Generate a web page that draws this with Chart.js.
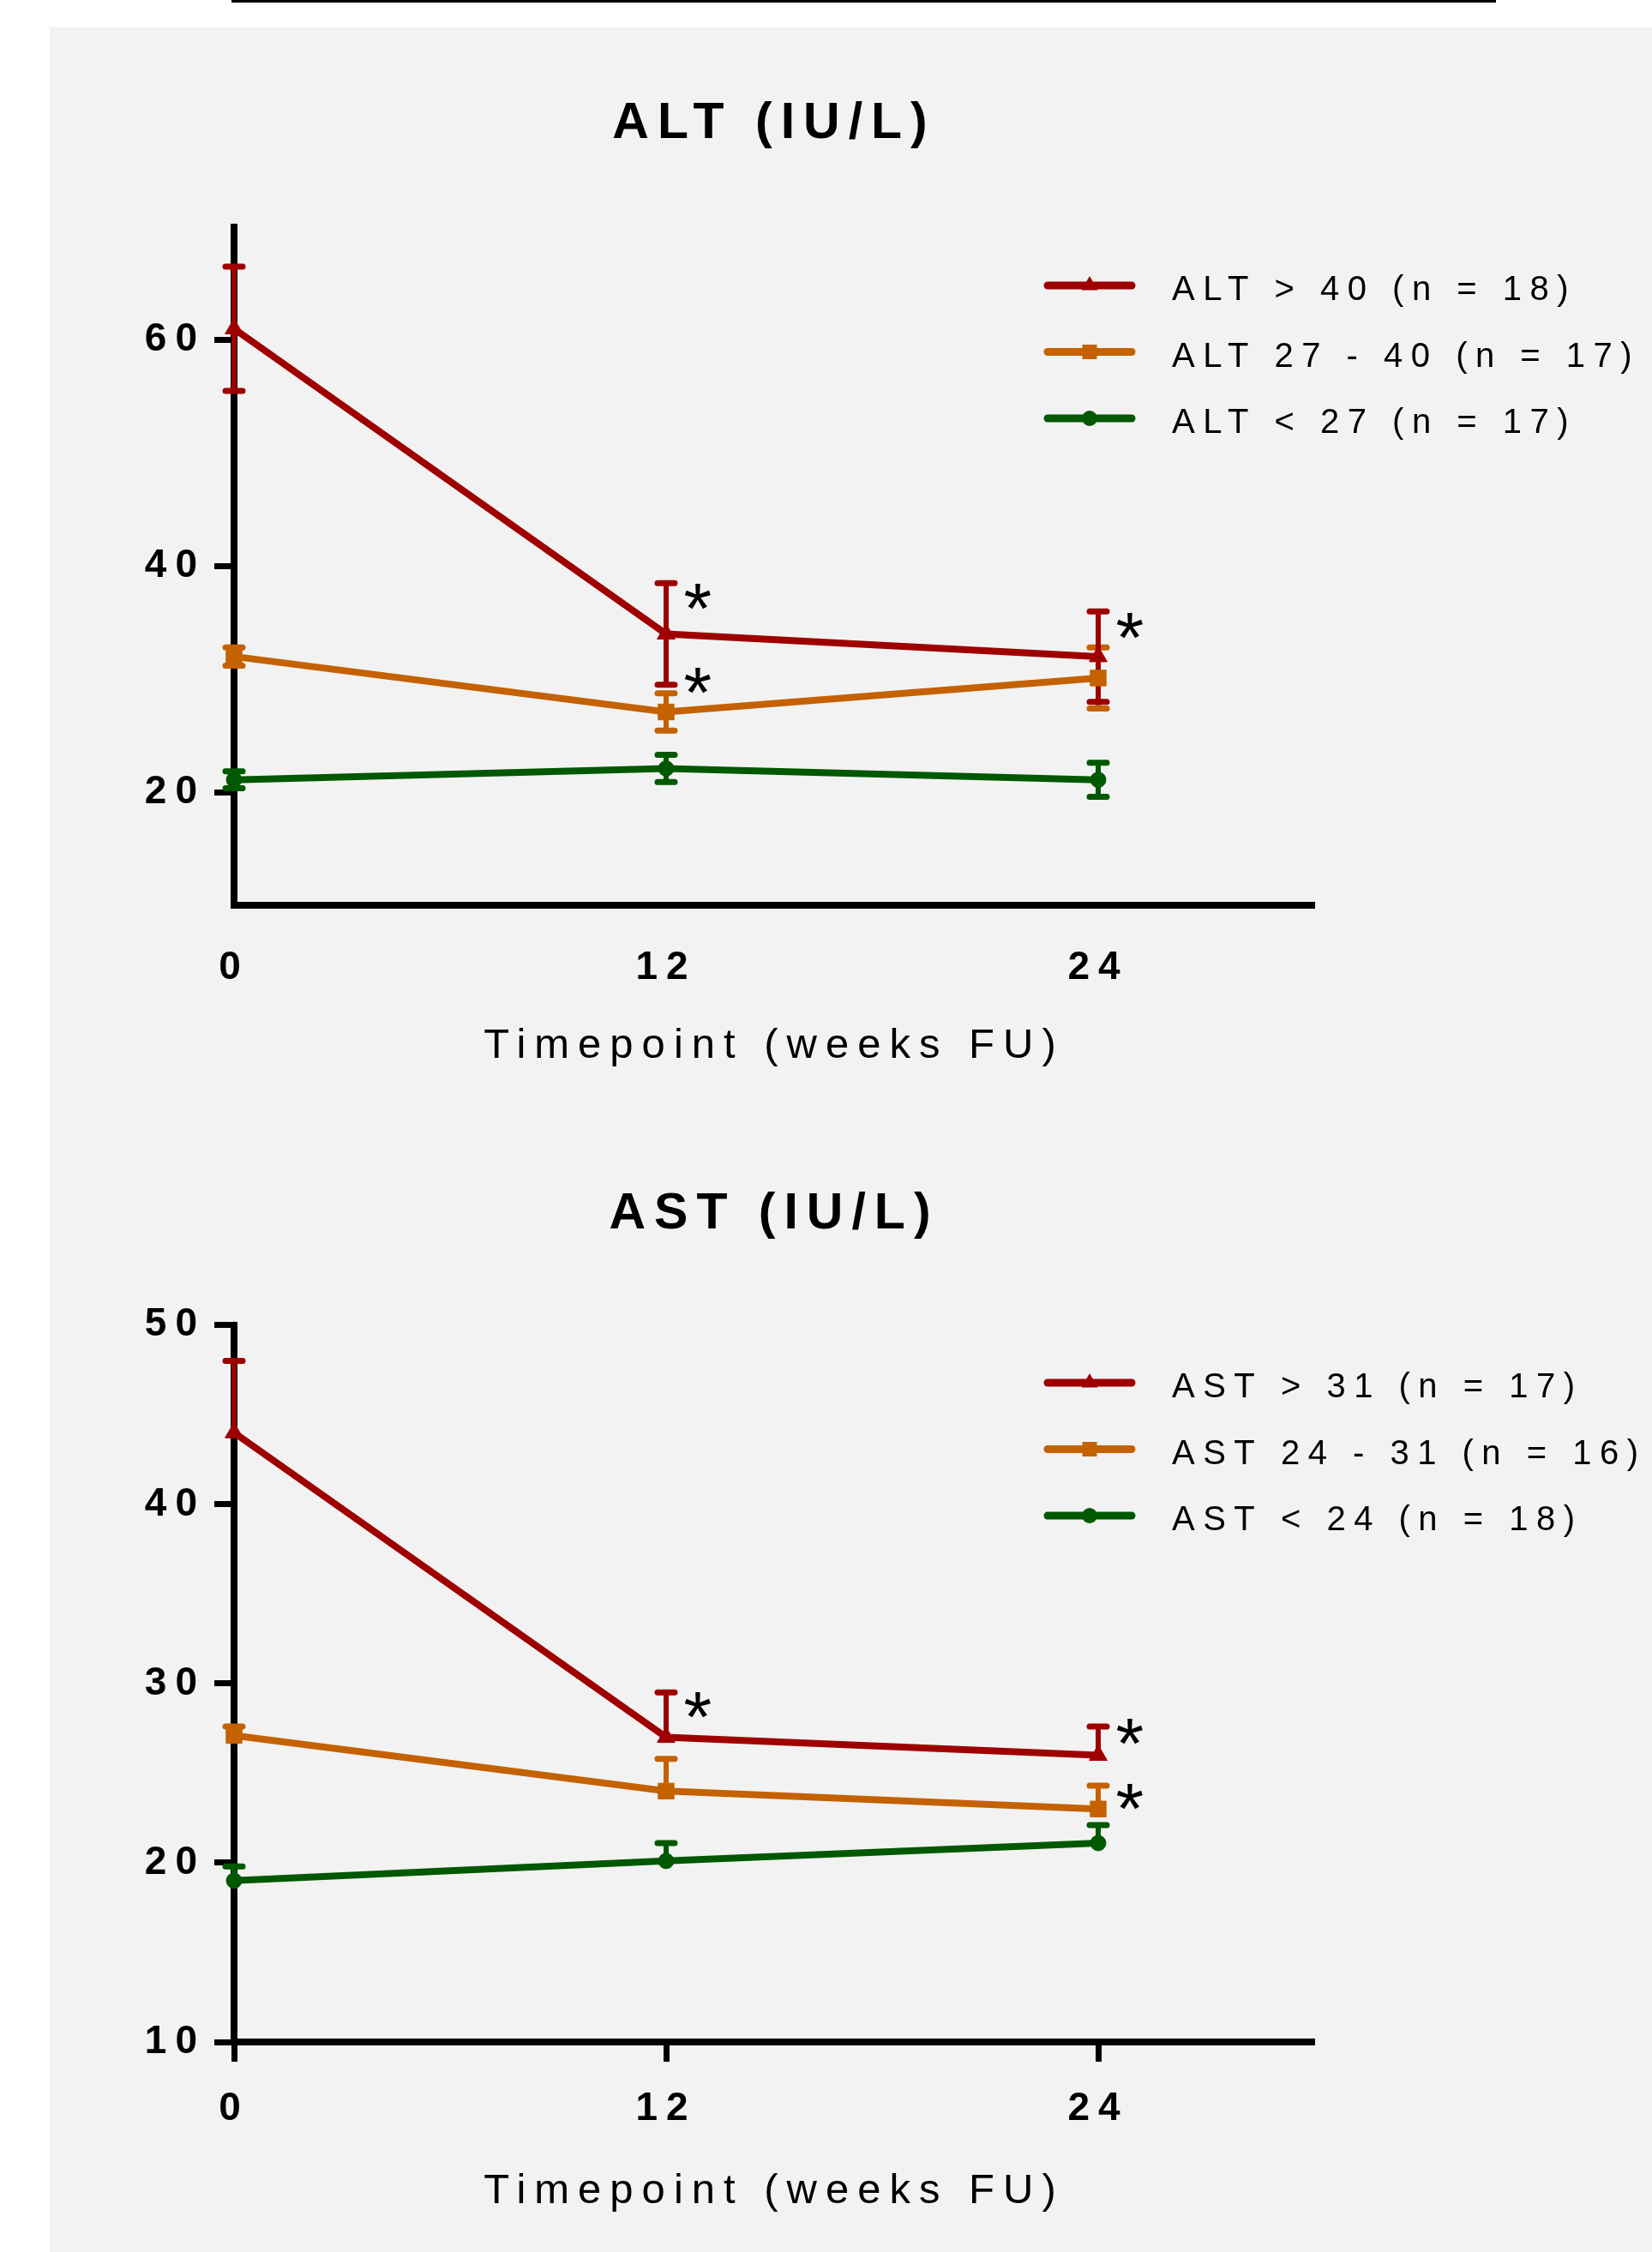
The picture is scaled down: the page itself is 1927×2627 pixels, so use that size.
<!DOCTYPE html>
<html>
<head>
<meta charset="utf-8">
<script src="https://cdn.jsdelivr.net/npm/chart.js@4.4.1/dist/chart.umd.min.js"></script>
<style>
  html, body { margin: 0; padding: 0; background: #fff; }
  body { width: 1927px; height: 2627px; position: relative; overflow: hidden; }
  #topRule { position: absolute; left: 270px; top: 0; width: 1475px; height: 3px; background: #000; }
  #panel { position: absolute; left: 58px; top: 32px; right: 0; bottom: 0; background: #f2f2f2; }
  .box { position: absolute; left: 0; width: 1927px; }
  #altBox { top: 0; height: 1290px; }
  #astBox { top: 1290px; height: 1337px; }
</style>
</head>
<body>
<div id="topRule"></div>
<div id="panel"></div>
<div class="box" id="altBox"><canvas id="altChart" width="1927" height="1290"></canvas></div>
<div class="box" id="astBox"><canvas id="astChart" width="1927" height="1337"></canvas></div>
<script>
// follow-up weeks on the x axis
const weeks = [0, 12, 24];
const weekTicks = [0, 12, 24];

// ALT groups: mean and SEM
const altLabels = ['ALT > 40 (n = 18)', 'ALT 27 - 40 (n = 17)', 'ALT < 27 (n = 17)'];
const altHigh = [61.0, 34.0, 32.0];
const altHighErr = [5.5, 4.5, 4.0];
const altMid = [32.0, 27.1, 30.1];
const altMidErr = [0.8, 1.65, 2.7];
const altLow = [21.1, 22.1, 21.1];
const altLowErr = [0.75, 1.2, 1.5];
const altYTicks = [20, 40, 60];
// asterisks: [week, value]
const altStars = [[12, 37.3], [12, 29.9], [24, 34.7]];

// AST groups: mean and upper error
const astLabels = ['AST > 31 (n = 17)', 'AST 24 - 31 (n = 16)', 'AST < 24 (n = 18)'];
const astHigh = [44.0, 27.0, 26.0];
const astHighErr = [4.0, 2.5, 1.6];
const astMid = [27.1, 24.0, 23.0];
const astMidErr = [0.5, 1.8, 1.3];
const astLow = [19.0, 20.1, 21.1];
const astLowErr = [0.8, 1.0, 1.0];
const astYTicks = [10, 20, 30, 40, 50];
const astStars = [[12, 28.8], [24, 27.3], [24, 23.7]];

const seriesColors = ['#9e0000', '#c46100', '#005800'];
const pointStyles = ['triangle', 'rect', 'circle'];
const pointSizes = [12, 13, 9];
const FONT = 'Liberation Sans';

function series(label, values, errs, i) {
    return {
        label: label,
        data: weeks.map((w, j) => ({ x: w, y: values[j] })),
        errors: errs,
        borderColor: seriesColors[i],
        backgroundColor: seriesColors[i],
        borderWidth: 8,
        pointStyle: pointStyles[i],
        pointRadius: pointSizes[i],
        pointBorderWidth: 1,
        pointBorderColor: seriesColors[i],
        pointBackgroundColor: seriesColors[i],
        tension: 0,
        fill: false,
        clip: false
    };
}

function drawMarker(ctx, style, x, y, r) {
    ctx.beginPath();
    if (style === 'triangle') {
        ctx.moveTo(x, y - r);
        ctx.lineTo(x + r * 0.866, y + r * 0.5);
        ctx.lineTo(x - r * 0.866, y + r * 0.5);
        ctx.closePath();
    } else if (style === 'rect') {
        const s = r * Math.SQRT1_2;
        ctx.rect(x - s, y - s, 2 * s, 2 * s);
    } else {
        ctx.arc(x, y, r, 0, Math.PI * 2);
    }
    ctx.fill();
}

// letter spacing used by the original figure
const spacing = {
    id: 'spacing',
    beforeDraw(chart) {
        chart.ctx.letterSpacing = '10px';
    }
};

const errorBars = {
    id: 'errorBars',
    beforeDatasetsDraw(chart, args, opts) {
        const { ctx, scales: { x, y } } = chart;
        const sets = chart.data.datasets;
        ctx.save();
        for (let i = sets.length - 1; i >= 0; i--) {
            const ds = sets[i];
            ctx.strokeStyle = ds.borderColor;
            ds.errors.forEach((e, j) => {
                const px = x.getPixelForValue(ds.data[j].x);
                const yTop = y.getPixelForValue(ds.data[j].y + e);
                const yBot = y.getPixelForValue(opts.upperOnly ? ds.data[j].y : ds.data[j].y - e);
                ctx.lineWidth = 6;
                ctx.lineCap = 'butt';
                ctx.beginPath();
                ctx.moveTo(px, yTop);
                ctx.lineTo(px, yBot);
                ctx.stroke();
                ctx.lineWidth = 7;
                ctx.lineCap = 'round';
                ctx.beginPath();
                ctx.moveTo(px - 10, yTop);
                ctx.lineTo(px + 10, yTop);
                if (!opts.upperOnly) {
                    ctx.moveTo(px - 10, yBot);
                    ctx.lineTo(px + 10, yBot);
                }
                ctx.stroke();
            });
        }
        // rounded axis ends
        const area = chart.chartArea;
        ctx.fillStyle = '#000';
        ctx.beginPath();
        ctx.arc(area.left, area.top, 4, 0, Math.PI * 2);
        ctx.arc(area.left, area.bottom, 4, 0, Math.PI * 2);
        ctx.fill();
        ctx.restore();
    }
};

const sideLegend = {
    id: 'sideLegend',
    afterDraw(chart, args, opts) {
        const ctx = chart.ctx;
        chart.data.datasets.forEach((ds, i) => {
            const yRow = opts.top + i * opts.gap;
            ctx.save();
            ctx.strokeStyle = ds.borderColor;
            ctx.fillStyle = ds.borderColor;
            ctx.lineWidth = 9;
            ctx.lineCap = 'round';
            ctx.beginPath();
            ctx.moveTo(opts.x0, yRow);
            ctx.lineTo(opts.x1, yRow);
            ctx.stroke();
            drawMarker(ctx, ds.pointStyle, (opts.x0 + opts.x1) / 2, yRow, [11, 12, 9][i]);
            ctx.letterSpacing = '9.5px';
            ctx.fillStyle = '#000';
            ctx.font = '40px "' + FONT + '"';
            ctx.textAlign = 'left';
            ctx.textBaseline = 'middle';
            ctx.fillText(ds.label, opts.textX, yRow + 6);
            ctx.restore();
        });
    }
};

const stars = {
    id: 'stars',
    afterDraw(chart, args, opts) {
        const { ctx, scales: { x, y } } = chart;
        ctx.save();
        ctx.letterSpacing = '0px';
        ctx.font = opts.size + 'px "' + FONT + '"';
        ctx.fillStyle = '#000';
        ctx.textAlign = 'left';
        ctx.textBaseline = 'alphabetic';
        const m = ctx.measureText('*');
        opts.points.forEach(([wx, vy]) => {
            const cx = x.getPixelForValue(wx) + opts.dx;
            const cy = y.getPixelForValue(vy);
            const bx = cx - (m.actualBoundingBoxRight - m.actualBoundingBoxLeft) / 2;
            const by = cy + (m.actualBoundingBoxAscent - m.actualBoundingBoxDescent) / 2;
            ctx.fillText('*', bx, by);
        });
        ctx.restore();
    }
};

function makeChart(id, cfg) {
    const ctx = document.getElementById(id).getContext('2d');
    return new Chart(ctx, {
        type: 'line',
        data: { datasets: cfg.datasets },
        plugins: [spacing, errorBars, sideLegend, stars],
        options: {
            responsive: false,
            animation: false,
            devicePixelRatio: 1,
            layout: { padding: { left: 73, right: 394, top: 0, bottom: cfg.bottomPad } },
            plugins: {
                legend: { display: false },
                tooltip: { enabled: false },
                title: {
                    display: true,
                    text: cfg.title,
                    fullSize: false,
                    color: '#000',
                    font: { family: FONT, size: 59, weight: 'bold' },
                    padding: cfg.titlePad
                },
                errorBars: { upperOnly: cfg.upperOnly },
                sideLegend: { x0: 1222, x1: 1320, textX: 1367, top: cfg.legendTop, gap: 77.5 },
                stars: { points: cfg.stars, dx: 37, size: 84 }
            },
            scales: {
                x: {
                    type: 'linear',
                    min: 0,
                    max: 30,
                    afterBuildTicks: axis => { axis.ticks = weekTicks.map(v => ({ value: v })); },
                    afterFit: scale => { scale.height = cfg.xHeight; },
                    border: { display: true, color: '#000', width: 8 },
                    grid: {
                        drawOnChartArea: false,
                        drawTicks: true,
                        tickLength: 23,
                        tickWidth: 7,
                        tickColor: cfg.xTickColor
                    },
                    ticks: {
                        padding: cfg.xLabelPad,
                        color: '#000',
                        autoSkip: false,
                        maxRotation: 0,
                        font: { family: FONT, size: 46, weight: 'bold' }
                    },
                    title: {
                        display: true,
                        text: 'Timepoint (weeks FU)',
                        color: '#000',
                        font: { family: FONT, size: 49 },
                        padding: { top: 6, bottom: 6 }
                    }
                },
                y: {
                    min: cfg.yMin,
                    max: cfg.yMax,
                    afterBuildTicks: axis => { axis.ticks = cfg.yTicks.map(v => ({ value: v })); },
                    afterFit: scale => { scale.width = 200; },
                    border: { display: true, color: '#000', width: 8 },
                    grid: {
                        drawOnChartArea: false,
                        drawTicks: true,
                        tickLength: 23,
                        tickWidth: 7,
                        tickColor: '#000'
                    },
                    ticks: {
                        padding: 10,
                        color: '#000',
                        autoSkip: false,
                        font: { family: FONT, size: 46, weight: 'bold' }
                    }
                }
            }
        }
    });
}

const altChart = makeChart('altChart', {
    title: 'ALT (IU/L)',
    titlePad: { top: 109, bottom: 85 },
    datasets: [
        series(altLabels[0], altHigh, altHighErr, 0),
        series(altLabels[1], altMid, altMidErr, 1),
        series(altLabels[2], altLow, altLowErr, 2)
    ],
    yMin: 10, yMax: 70, yTicks: altYTicks,
    xHeight: 200, bottomPad: 34, xLabelPad: 23, xTickColor: 'rgba(0,0,0,0)',
    upperOnly: false, legendTop: 333, stars: altStars
});

const astChart = makeChart('astChart', {
    title: 'AST (IU/L)',
    titlePad: { top: 91, bottom: 94 },
    datasets: [
        series(astLabels[0], astHigh, astHighErr, 0),
        series(astLabels[1], astMid, astMidErr, 1),
        series(astLabels[2], astLow, astLowErr, 2)
    ],
    yMin: 10, yMax: 50, yTicks: astYTicks,
    xHeight: 210, bottomPad: 35, xLabelPad: 28, xTickColor: '#000',
    upperOnly: true, legendTop: 323, stars: astStars
});
</script>
</body>
</html>
